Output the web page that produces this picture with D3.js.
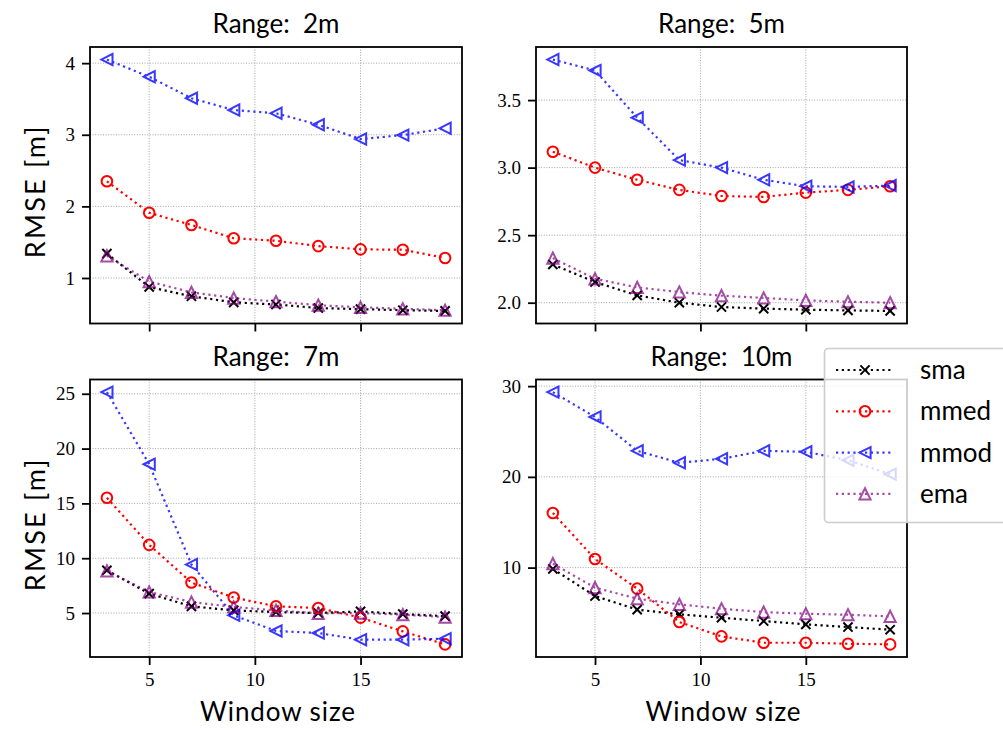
<!DOCTYPE html>
<html>
<head>
<meta charset="utf-8">
<script src="https://cdn.jsdelivr.net/npm/d3@7/dist/d3.min.js"></script>
<style>
  html, body { margin: 0; padding: 0; background: #fff; }
  svg { display: block; }
  .title, .axlabel, .legtext { font-family: Lato, "Open Sans", sans-serif; fill: #000; }
  .tick text { font-family: "Liberation Serif", "DejaVu Serif", serif; }
</style>
</head>
<body>
<svg id="fig" width="1003" height="731"></svg>
<script>
// Window sizes evaluated for every filter
const windowSizes = [3, 5, 7, 9, 11, 13, 15, 17, 19];
const xTicks = [5, 10, 15];

// RMSE [m] per filter, range 2 m
const sma2  = [1.34, 0.875, 0.745, 0.66, 0.63, 0.58, 0.565, 0.55, 0.54];
const mmed2 = [2.35, 1.91, 1.74, 1.555, 1.52, 1.445, 1.40, 1.395, 1.28];
const mmod2 = [4.05, 3.81, 3.51, 3.345, 3.30, 3.14, 2.94, 2.995, 3.09];
const ema2  = [1.31, 0.95, 0.80, 0.72, 0.67, 0.62, 0.59, 0.57, 0.55];

// range 5 m
const sma5  = [2.283, 2.153, 2.054, 2.0, 1.968, 1.956, 1.948, 1.943, 1.939];
const mmed5 = [3.118, 3.0, 2.91, 2.835, 2.79, 2.783, 2.815, 2.835, 2.862];
const mmod5 = [3.80, 3.719, 3.37, 3.056, 3.0, 2.91, 2.862, 2.857, 2.867];
const ema5  = [2.33, 2.177, 2.113, 2.079, 2.052, 2.035, 2.017, 2.007, 2.0];

// range 7 m
const sma7  = [8.9, 6.77, 5.61, 5.24, 5.09, 5.0, 5.15, 4.9, 4.72];
const mmed7 = [15.51, 11.22, 7.78, 6.41, 5.61, 5.46, 4.58, 3.33, 2.14];
const mmod7 = [25.15, 18.57, 9.42, 4.79, 3.36, 3.18, 2.57, 2.57, 2.66];
const ema7  = [8.84, 6.92, 6.0, 5.55, 5.24, 4.97, 5.0, 4.85, 4.63];

// range 10 m
const sma10  = [9.85, 6.87, 5.37, 4.85, 4.48, 4.11, 3.75, 3.45, 3.16];
const mmed10 = [16.02, 10.95, 7.68, 4.0, 2.42, 1.72, 1.72, 1.61, 1.54];
const mmod10 = [29.34, 26.6, 22.87, 21.55, 21.99, 22.87, 22.76, 21.84, 20.3];
const ema10  = [10.44, 7.79, 6.58, 5.95, 5.47, 5.1, 4.92, 4.81, 4.63];

const panelTitles = ["Range:\u00a0 2m", "Range:\u00a0 5m", "Range:\u00a0 7m", "Range:\u00a0 10m"];
const yTicks2 = [1, 2, 3, 4];
const yTicks5 = [2.0, 2.5, 3.0, 3.5];
const yTicks7 = [5, 10, 15, 20, 25];
const yTicks10 = [10, 20, 30];

const seriesNames = ["sma", "mmed", "mmod", "ema"];

// Styling for each filter's line + marker
const styles = {
  sma:  { color: "#000000", opacity: 1.0, marker: "x" },
  mmed: { color: "#ff0000", opacity: 1.0, marker: "o" },
  mmod: { color: "#0000ff", opacity: 0.78, marker: "<" },
  ema:  { color: "#800080", opacity: 0.7, marker: "^" }
};

const panels = [
  { title: panelTitles[0], series: [sma2, mmed2, mmod2, ema2], yTicks: yTicks2, fmt: d3.format("d"),
    box: { x0: 90, x1: 462, y0: 47, y1: 323.5 }, yLabel: true, xLabels: false },
  { title: panelTitles[1], series: [sma5, mmed5, mmod5, ema5], yTicks: yTicks5, fmt: d3.format(".1f"),
    box: { x0: 536, x1: 907, y0: 47, y1: 323.5 }, yLabel: false, xLabels: false },
  { title: panelTitles[2], series: [sma7, mmed7, mmod7, ema7], yTicks: yTicks7, fmt: d3.format("d"),
    box: { x0: 90, x1: 462, y0: 379.5, y1: 657 }, yLabel: true, xLabels: true },
  { title: panelTitles[3], series: [sma10, mmed10, mmod10, ema10], yTicks: yTicks10, fmt: d3.format("d"),
    box: { x0: 536, x1: 907, y0: 379.5, y1: 657 }, yLabel: false, xLabels: true }
];

const svg = d3.select("#fig");

const LW = 2.2;
const DASH = "2.2,3.6";
const MEW = 2.0;
const LABEL_SIZE = 26;

function markerPath(type, s) {
  if (type === "x") return `M${-s},${-s}L${s},${s}M${-s},${s}L${s},${-s}`;
  if (type === "<") return `M${-s},0L${s},${-s}L${s},${s}Z`;
  if (type === "^") return `M0,${-s}L${-s},${s}L${s},${s}Z`;
  return null;
}

function drawMarker(g, type, cx, cy, style) {
  if (type === "o") {
    g.append("circle").attr("cx", cx).attr("cy", cy).attr("r", 5.3)
      .attr("fill", "none").attr("stroke", style.color).attr("stroke-width", MEW);
  } else {
    const s = type === "x" ? 4.6 : 5.6;
    g.append("path").attr("transform", `translate(${cx},${cy})`)
      .attr("d", markerPath(type, s))
      .attr("fill", "none").attr("stroke", style.color)
      .attr("stroke-width", MEW).attr("stroke-linejoin", "miter");
  }
}

panels.forEach((p, i) => {
  const b = p.box;
  const xs = d3.scaleLinear().domain([2.2, 19.8]).range([b.x0, b.x1]);
  const all = p.series.flat();
  const lo = d3.min(all), hi = d3.max(all), pad = (hi - lo) * 0.05;
  const ys = d3.scaleLinear().domain([lo - pad, hi + pad]).range([b.y1, b.y0]);

  const g = svg.append("g");
  const clipId = "clip" + i;
  g.append("clipPath").attr("id", clipId).append("rect")
    .attr("x", b.x0).attr("y", b.y0).attr("width", b.x1 - b.x0).attr("height", b.y1 - b.y0);

  // grid
  const grid = g.append("g");
  xTicks.forEach(t => grid.append("line")
    .attr("x1", xs(t)).attr("x2", xs(t)).attr("y1", b.y0).attr("y2", b.y1));
  p.yTicks.forEach(t => grid.append("line")
    .attr("x1", b.x0).attr("x2", b.x1).attr("y1", ys(t)).attr("y2", ys(t)));
  grid.selectAll("line").attr("stroke", "#9a9a9a").attr("stroke-width", 0.9)
    .attr("stroke-dasharray", "1,1.6");

  // series
  const line = d3.line().x((d, k) => xs(windowSizes[k])).y(d => ys(d));
  p.series.forEach((vals, si) => {
    const st = styles[seriesNames[si]];
    const sg = g.append("g").attr("opacity", st.opacity);
    sg.append("path").attr("d", line(vals)).attr("clip-path", `url(#${clipId})`)
      .attr("fill", "none").attr("stroke", st.color).attr("stroke-width", LW)
      .attr("stroke-dasharray", DASH);
    vals.forEach((v, k) => drawMarker(sg, st.marker, xs(windowSizes[k]), ys(v), st));
  });

  // axes
  const xAxis = d3.axisBottom(xs).tickValues(xTicks).tickSize(8).tickPadding(8)
    .tickFormat(p.xLabels ? d3.format("d") : "");
  const yAxis = d3.axisLeft(ys).tickValues(p.yTicks).tickSize(8).tickPadding(7).tickFormat(p.fmt);
  const gx = g.append("g").attr("transform", `translate(0,${b.y1})`).call(xAxis);
  const gy = g.append("g").attr("transform", `translate(${b.x0},0)`).call(yAxis);
  [gx, gy].forEach(a => {
    a.select(".domain").remove();
    a.selectAll(".tick line").attr("stroke", "#000").attr("stroke-width", 1.8);
    a.selectAll(".tick text").attr("fill", "#000").attr("font-size", 19);
  });

  // frame
  g.append("rect").attr("x", b.x0).attr("y", b.y0)
    .attr("width", b.x1 - b.x0).attr("height", b.y1 - b.y0)
    .attr("fill", "none").attr("stroke", "#000").attr("stroke-width", 1.8);

  // title
  g.append("text").attr("class", "title")
    .attr("x", (b.x0 + b.x1) / 2).attr("y", b.y0 - 14)
    .attr("text-anchor", "middle").attr("font-size", LABEL_SIZE).text(p.title);

  if (p.yLabel) {
    g.append("text").attr("class", "axlabel")
      .attr("transform", `translate(45,${(b.y0 + b.y1) / 2 + 6}) rotate(-90)`)
      .attr("text-anchor", "middle").attr("font-size", LABEL_SIZE + 1)
      .attr("letter-spacing", 2.2).text("RMSE [m]");
  }
  if (p.xLabels) {
    g.append("text").attr("class", "axlabel")
      .attr("x", (b.x0 + b.x1) / 2 + 2).attr("y", 721)
      .attr("text-anchor", "middle").attr("font-size", LABEL_SIZE)
      .attr("letter-spacing", 0.9).text("Window size");
  }
});

// legend
const leg = svg.append("g");
leg.append("rect").attr("x", 824.5).attr("y", 348.5).attr("width", 200).attr("height", 174)
  .attr("rx", 4).attr("fill", "#fff").attr("fill-opacity", 0.8)
  .attr("stroke", "#cccccc").attr("stroke-width", 1.6);
seriesNames.forEach((name, k) => {
  const st = styles[name];
  const y = 370 + k * 41.3;
  const lg = leg.append("g").attr("opacity", st.opacity);
  lg.append("line").attr("x1", 836).attr("x2", 893).attr("y1", y).attr("y2", y)
    .attr("stroke", st.color).attr("stroke-width", LW).attr("stroke-dasharray", DASH);
  drawMarker(lg, st.marker, 865, y, st);
  leg.append("text").attr("class", "legtext").attr("x", 920).attr("y", y + 9)
    .attr("font-size", LABEL_SIZE).text(name);
});
</script>
</body>
</html>
